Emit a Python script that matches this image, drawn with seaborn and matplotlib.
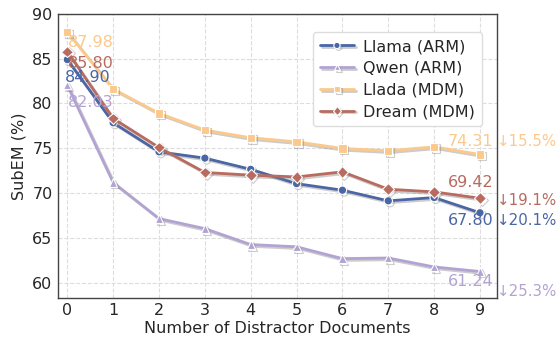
import numpy as np
import pandas as pd
import matplotlib
matplotlib.use("Agg")
import matplotlib.pyplot as plt
import matplotlib.patheffects as pe
import seaborn as sns

distractors = list(range(10))
models = ["Llama (ARM)", "Qwen (ARM)", "Llada (MDM)", "Dream (MDM)"]
llama = [84.90, 77.85, 74.60, 73.90, 72.65, 71.05, 70.32, 69.13, 69.50, 67.80]
qwen = [82.03, 71.18, 67.15, 66.03, 64.25, 64.00, 62.68, 62.75, 61.75, 61.24]
llada = [87.98, 81.62, 78.90, 77.03, 76.17, 75.72, 74.98, 74.72, 75.16, 74.31]
dream = [85.80, 78.33, 75.09, 72.30, 72.00, 71.80, 72.37, 70.43, 70.13, 69.42]
drops = ["↓20.1%", "↓25.3%", "↓15.5%", "↓19.1%"]

series = [llama, qwen, llada, dream]
colors = ["#4a66a5", "#b3a3d3", "#fcc98c", "#b86b5e"]
markers = ["o", "^", "s", "D"]

rows = []
for m, vals in zip(models, series):
    for x, v in zip(distractors, vals):
        rows.append({"Distractors": x, "SubEM": v, "Model": m})
df = pd.DataFrame(rows)

sns.set_theme(style="white")
plt.rcParams["font.family"] = ["DejaVu Sans"]

FS = 11.5
fig, ax = plt.subplots(figsize=(5.59, 3.4), dpi=100)
sns.lineplot(data=df, x="Distractors", y="SubEM", hue="Model", style="Model",
             palette=dict(zip(models, colors)), markers=dict(zip(models, markers)),
             dashes=False, linewidth=2.0, markersize=6, markeredgecolor="white",
             markeredgewidth=0.8, ax=ax, legend=True)

shadow = [pe.SimpleLineShadow(offset=(1.3, -1.3), shadow_color="gray", alpha=0.4), pe.Normal()]
for line in ax.lines:
    line.set_path_effects(shadow)

ax.grid(True, linestyle="--", color="#dddddd", linewidth=0.8)
ax.set_axisbelow(True)
for sp in ax.spines.values():
    sp.set_color("#444444")
    sp.set_linewidth(1.0)

ax.set_xlim(-0.2, 9.37)
ax.set_ylim(58.3, 90)
ax.set_xticks(distractors)
ax.set_yticks([60, 65, 70, 75, 80, 85, 90])
ax.tick_params(labelsize=FS, length=0, pad=4)
ax.set_xlabel("Number of Distractor Documents", fontsize=FS, labelpad=2)
ax.set_ylabel("SubEM (%)", fontsize=FS, labelpad=4)

# start labels
start_dy = [-1.98, -1.95, -1.22, -1.28]
start_dx = [-0.05, 0.02, 0.02, 0.02]
for vals, c, dy, dx in zip(series, colors, start_dy, start_dx):
    ax.text(distractors[0] + dx, vals[0] + dy, f"{vals[0]:.2f}", color=c,
            fontsize=FS, ha="left", va="center")

# end labels
end_dy = [-0.91, -1.10, 1.41, 1.76]
drop_dy = [-0.83, -2.24, 1.41, -0.25]
for vals, c, dy, ddy, d in zip(series, colors, end_dy, drop_dy, drops):
    ax.text(distractors[-1] + 0.30, vals[-1] + dy, f"{vals[-1]:.2f}", color=c,
            fontsize=FS, ha="right", va="center")
    ax.text(distractors[-1] + 0.36, vals[-1] + ddy, d, color=c,
            fontsize=10.8, ha="left", va="center", clip_on=False)

handles, labels = ax.get_legend_handles_labels()
leg = ax.legend(handles, labels, loc="upper right", fontsize=FS, frameon=True,
                fancybox=True, edgecolor="#dddddd", framealpha=1.0,
                handlelength=2.1, handletextpad=0.6, borderpad=0.45,
                labelspacing=0.42, markerscale=0.75,
                bbox_to_anchor=(0.985, 0.965))
for h in leg.get_lines():
    h.set_path_effects(shadow)

fig.subplots_adjust(left=0.104, right=0.889, top=0.959, bottom=0.124)
fig.savefig("out.png", dpi=100)
